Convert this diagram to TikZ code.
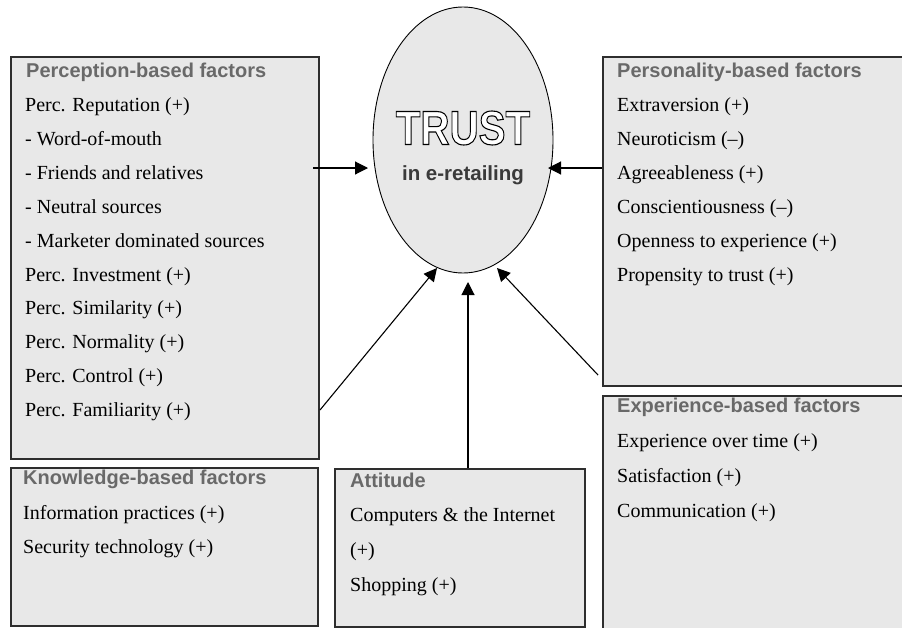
\documentclass[tikz,border=0pt]{standalone}
\usepackage{fontspec}
\setmainfont{Liberation Serif}
\newfontfamily\hdfont{Liberation Sans}
\usetikzlibrary{arrows.meta,shapes.geometric}
\definecolor{boxfill}{HTML}{E8E8E8}
\definecolor{boxline}{HTML}{2E2E2E}
\definecolor{hdcol}{HTML}{696969}
\definecolor{subcol}{HTML}{3A3A3A}
\newcommand{\outlinetext}[1]{{\color{white}\special{pdf:literal direct 2 Tr 1.1 w 0 G}#1\special{pdf:literal direct 0 Tr}}}
\begin{document}
\begin{tikzpicture}[x=1pt,y=-1pt,
  factorbox/.style={draw=boxline, line width=1.6pt, fill=boxfill, rectangle, anchor=north west, inner sep=0pt},
  item/.style={anchor=base west, inner sep=0pt, font=\fontsize{20}{24}\selectfont},
  header/.style={anchor=base west, inner sep=0pt, font=\hdfont\bfseries\fontsize{20}{24}\selectfont, text=hdcol},
  link/.style={line width=1.1pt, -{Triangle[length=13pt,width=13pt]}}]
\useasboundingbox (0,0) rectangle (902,627);

% boxes
\node[factorbox, minimum width=308pt, minimum height=402pt] (perc) at (10,56) {};
\node[factorbox, minimum width=320pt, minimum height=329pt] (pers) at (602,56) {};
\node[factorbox, minimum width=320pt, minimum height=250pt] (expe) at (602,395) {};
\node[factorbox, minimum width=307pt, minimum height=158pt] (know) at (10,467) {};
\node[factorbox, minimum width=250pt, minimum height=158pt] (atti) at (334,468) {};

% trust ellipse
\node[ellipse, draw=black, line width=0.9pt, fill=boxfill, minimum width=180pt, minimum height=266pt, inner sep=0pt] (trust) at (463,140) {};
\node[inner sep=0pt, xscale=0.84, font=\hdfont\bfseries\fontsize{48}{50}\selectfont] (trustword) at (463,128) {\outlinetext{TRUST}};
\node[inner sep=0pt, text=subcol, font=\hdfont\bfseries\fontsize{20.5}{24}\selectfont] (trustsub) at (463,175) {in e-retailing};

% perception-based
\node[header] (ph) at (26,77) {Perception-based factors};
\node[item] (p1) at (25,111.5) {Perc. Reputation (+)};
\node[item] (p2) at (25,145.4) {- Word-of-mouth};
\node[item] (p3) at (25,179.3) {- Friends and relatives};
\node[item] (p4) at (25,213.2) {- Neutral sources};
\node[item] (p5) at (25,247.1) {- Marketer dominated sources};
\node[item] (p6) at (25,281) {Perc. Investment (+)};
\node[item] (p7) at (25,314.9) {Perc. Similarity (+)};
\node[item] (p8) at (25,348.8) {Perc. Normality (+)};
\node[item] (p9) at (25,382.7) {Perc. Control (+)};
\node[item] (p10) at (25,416.6) {Perc. Familiarity (+)};

% personality-based
\node[header] (sh) at (617,77) {Personality-based factors};
\node[item] (s1) at (617,111.5) {Extraversion (+)};
\node[item] (s2) at (617,145.4) {Neuroticism (–)};
\node[item] (s3) at (617,179.3) {Agreeableness (+)};
\node[item] (s4) at (617,213.2) {Conscientiousness (–)};
\node[item] (s5) at (617,247.1) {Openness to experience (+)};
\node[item] (s6) at (617,281) {Propensity to trust (+)};

% experience-based
\node[header] (eh) at (617,412) {Experience-based factors};
\node[item] (e1) at (617,447) {Experience over time (+)};
\node[item] (e2) at (617,482) {Satisfaction (+)};
\node[item] (e3) at (617,517) {Communication (+)};

% knowledge-based
\node[header] (kh) at (23,484) {Knowledge-based factors};
\node[item] (k1) at (23,519) {Information practices (+)};
\node[item] (k2) at (23,553) {Security technology (+)};

% attitude
\node[header] (ah) at (350,487) {Attitude};
\node[item] (a1) at (350,521) {Computers \& the Internet};
\node[item] (a2) at (350,556) {(+)};
\node[item] (a3) at (350,591) {Shopping (+)};

% connector end points
\coordinate (percout) at (313,168);
\coordinate (percin) at (368,168);
\coordinate (persout) at (602,168);
\coordinate (persin) at (548,168);
\coordinate (knowout) at (320,410);
\coordinate (knowin) at (437,268);
\coordinate (attiout) at (468,468);
\coordinate (attiin) at (468,282);
\coordinate (expeout) at (598,375);
\coordinate (expein) at (497,268);

\draw[link] (percout) -- (percin);
\draw[link] (persout) -- (persin);
\draw[link] (knowout) -- (knowin);
\draw[link] (attiout) -- (attiin);
\draw[link] (expeout) -- (expein);
\end{tikzpicture}
\end{document}
